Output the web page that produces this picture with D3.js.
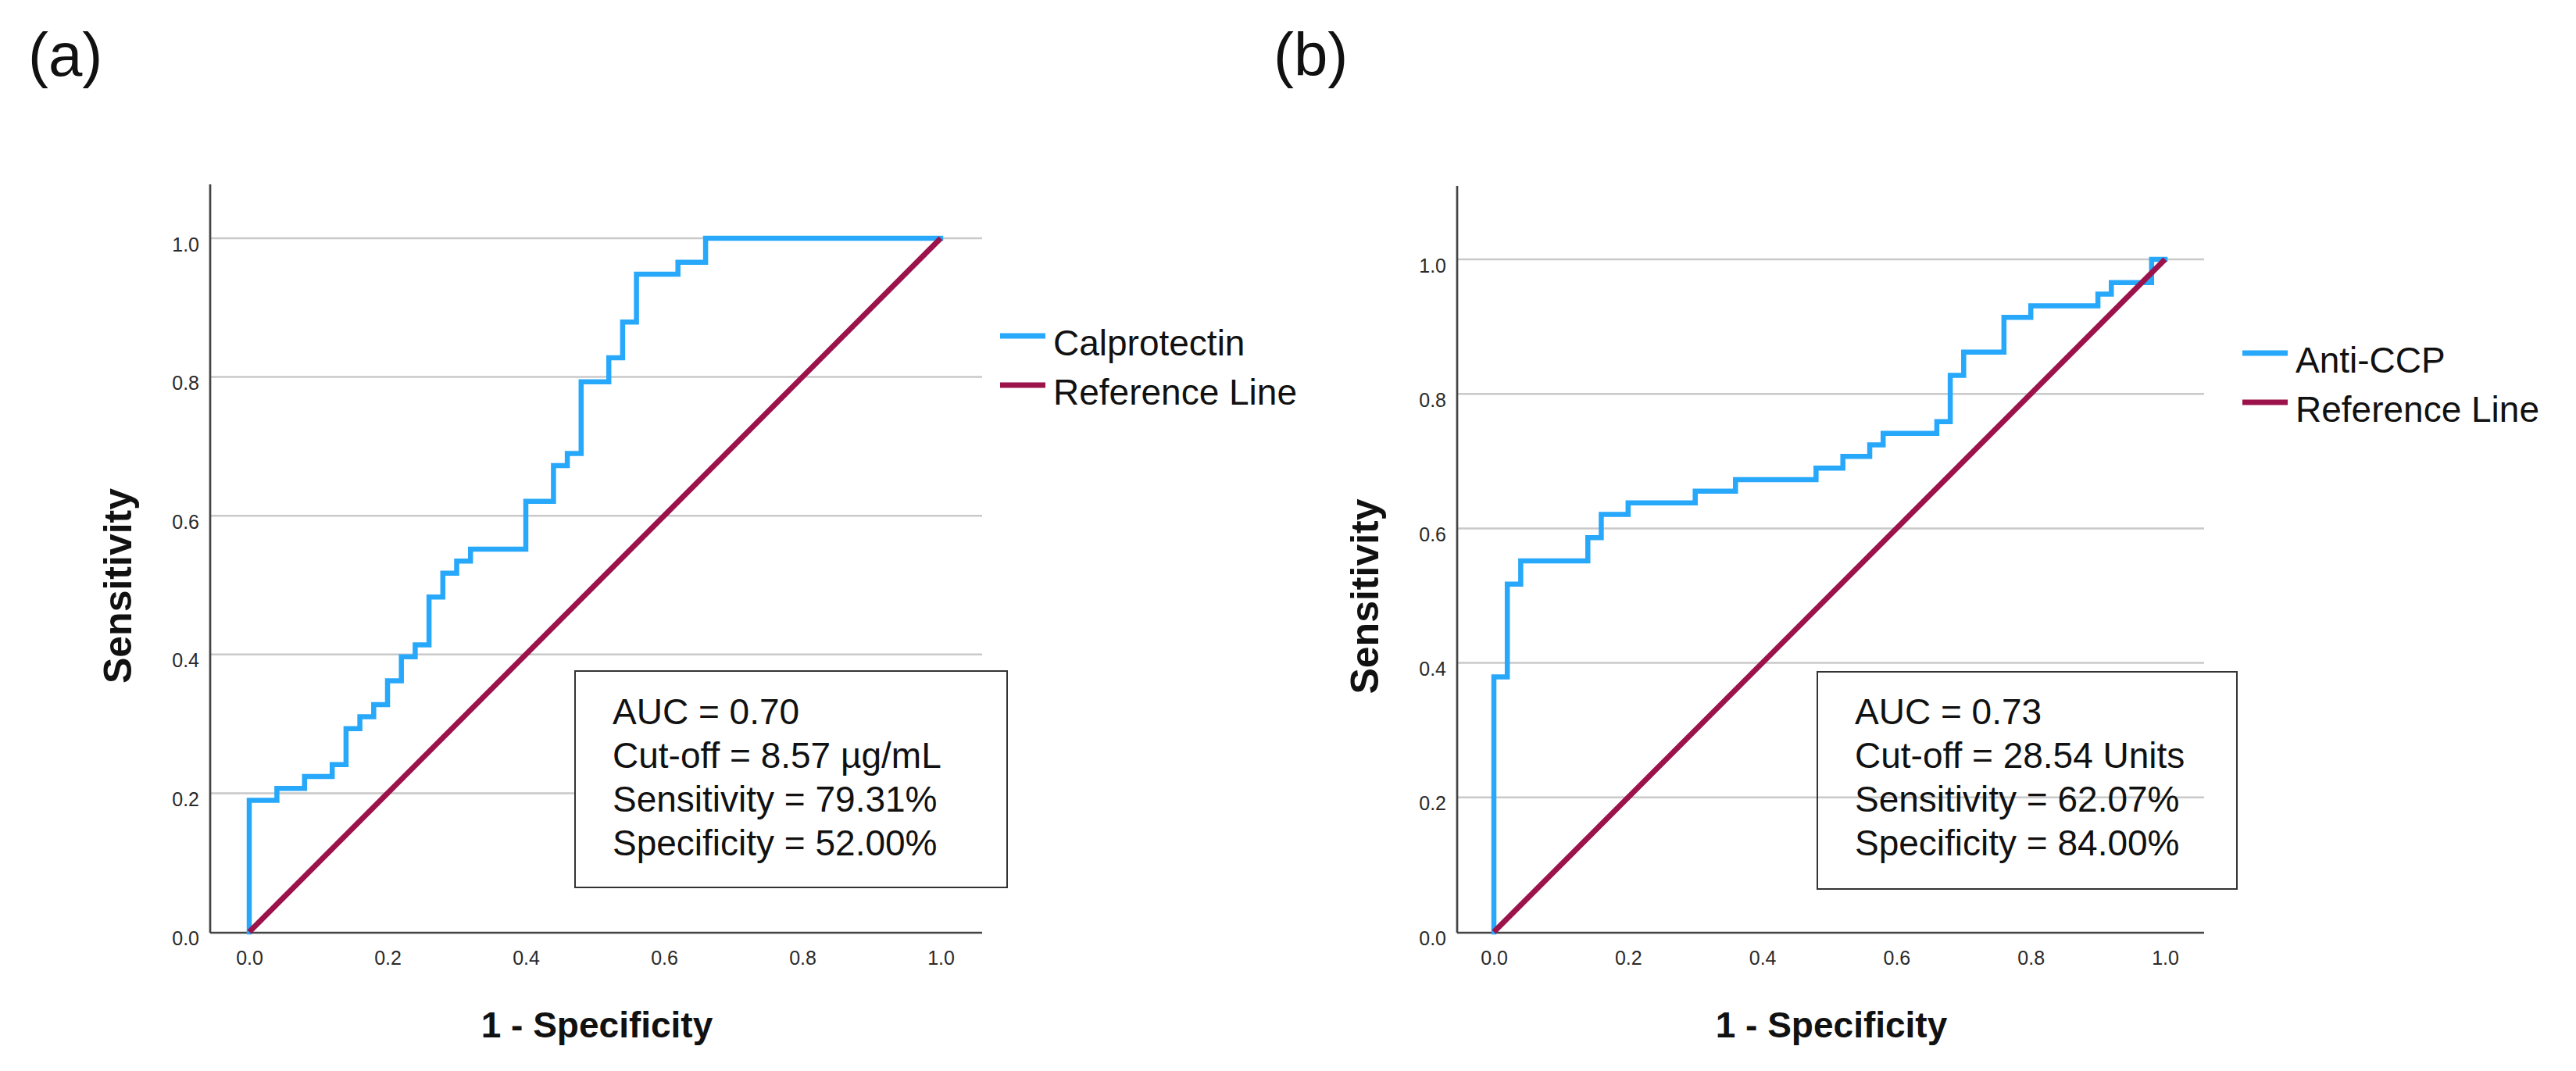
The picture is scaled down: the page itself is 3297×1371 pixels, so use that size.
<!DOCTYPE html>
<html>
<head>
<meta charset="utf-8">
<script src="https://cdn.jsdelivr.net/npm/d3@7"></script>
<style>
  body { margin: 0; background: #fff; }
  text { font-family: "Liberation Sans", Arial, sans-serif; }
</style>
</head>
<body>
<div class="main-container"></div>
<script>
// ROC coordinates (1 - specificity, sensitivity), drawn as step-after staircase
var calFpr = [0, 0, 0.04, 0.08, 0.12, 0.14, 0.16, 0.18, 0.20, 0.22, 0.24, 0.26, 0.28, 0.30, 0.32,
              0.40, 0.44, 0.46, 0.48, 0.52, 0.54, 0.56, 0.62, 0.66, 1.0];
var calTpr = [0, 0.1897, 0.2069, 0.2241, 0.2414, 0.2931, 0.3103, 0.3276, 0.3621, 0.3966, 0.4138,
              0.4828, 0.5172, 0.5345, 0.5517, 0.6207, 0.6724, 0.6897, 0.7931, 0.8276, 0.8793,
              0.9483, 0.9655, 1.0, 1.0];

var ccpFpr = [0, 0, 0.02, 0.04, 0.14, 0.16, 0.20, 0.30, 0.36, 0.48, 0.52, 0.56, 0.58, 0.66, 0.68,
              0.70, 0.76, 0.80, 0.90, 0.92, 0.98, 1.0];
var ccpTpr = [0, 0.3793, 0.5172, 0.5517, 0.5862, 0.6207, 0.6379, 0.6552, 0.6724, 0.6897, 0.7069,
              0.7241, 0.7414, 0.7586, 0.8276, 0.8621, 0.9138, 0.9310, 0.9483, 0.9655, 1.0, 1.0];

var refLine = [[0, 0], [1, 1]];
var tickValues = [0, 0.2, 0.4, 0.6, 0.8, 1.0];
var gridValues = [0.2, 0.4, 0.6, 0.8, 1.0];

var calStats = ["AUC = 0.70", "Cut-off = 8.57 \u00b5g/mL", "Sensitivity = 79.31%", "Specificity = 52.00%"];
var ccpStats = ["AUC = 0.73", "Cut-off = 28.54 Units", "Sensitivity = 62.07%", "Specificity = 84.00%"];

var blue = "#27a8fb", maroon = "#9c124a";

var panels = [
  { label: "(a)", labelX: 36, name: "Calprotectin", fpr: calFpr, tpr: calTpr, stats: calStats,
    x0: 319, x1: 1204, y0: 1193, y1: 305, left: 269, right: 1257, top: 236,
    box: [736, 859, 553, 277], boxFill: "#fff", legX: 1280, legY: 430, yTitleX: 168, xTitleX: 764 },
  { label: "(b)", labelX: 1630, name: "Anti-CCP", fpr: ccpFpr, tpr: ccpTpr, stats: ccpStats,
    x0: 1912, x1: 2771, y0: 1193, y1: 332, left: 1865, right: 2821, top: 238,
    box: [2326, 860, 537, 278], boxFill: "none", legX: 2870, legY: 452, yTitleX: 1764, xTitleX: 2344 }
];

var svg = d3.select(".main-container")
    .append("svg")
    .attr("width", 3297)
    .attr("height", 1371)
    .style("display", "block");

svg.append("rect").attr("width", 3297).attr("height", 1371).attr("fill", "#fff");

panels.forEach(function (p) {
    var x = d3.scaleLinear().domain([0, 1]).range([p.x0, p.x1]);
    var y = d3.scaleLinear().domain([0, 1]).range([p.y0, p.y1]);
    var g = svg.append("g");

    // panel label
    g.append("text").attr("x", p.labelX).attr("y", 97)
        .style("font-size", "78px").attr("fill", "#111").text(p.label);

    // grid lines
    g.selectAll("line.grid").data(gridValues).enter().append("line")
        .attr("class", "grid")
        .attr("x1", p.left).attr("x2", p.right)
        .attr("y1", function (d) { return y(d); }).attr("y2", function (d) { return y(d); })
        .attr("stroke", "#c9c9c9").attr("stroke-width", 2.5);

    // axes lines
    g.append("line").attr("x1", p.left).attr("x2", p.left).attr("y1", p.top).attr("y2", p.y0 + 1)
        .attr("stroke", "#444").attr("stroke-width", 2.7);
    g.append("line").attr("x1", p.left).attr("x2", p.right).attr("y1", p.y0 + 1).attr("y2", p.y0 + 1)
        .attr("stroke", "#444").attr("stroke-width", 2.7);

    // tick labels
    var yAxis = g.append("g").attr("transform", "translate(" + p.left + ",0)")
        .call(d3.axisLeft(y).tickValues(tickValues).tickSize(0).tickPadding(14).tickFormat(d3.format(".1f")));
    var xAxis = g.append("g").attr("transform", "translate(0," + (p.y0 + 1) + ")")
        .call(d3.axisBottom(x).tickValues(tickValues).tickSize(0).tickPadding(23).tickFormat(d3.format(".1f")));
    [yAxis, xAxis].forEach(function (a) {
        a.select(".domain").remove();
        a.selectAll("text").style("font-size", "25px").attr("fill", "#2a2a2a")
            .style("font-family", "'Liberation Sans', Arial, sans-serif");
    });
    yAxis.selectAll("text").attr("dy", "0.64em");

    // ROC curve
    var pts = p.fpr.map(function (d, i) { return [d, p.tpr[i]]; });
    g.append("path").datum(pts)
        .attr("d", d3.line().x(function (d) { return x(d[0]); }).y(function (d) { return y(d[1]); })
            .curve(d3.curveStepAfter))
        .attr("fill", "none").attr("stroke", blue).attr("stroke-width", 6.5)
        .attr("stroke-linejoin", "miter").attr("stroke-linecap", "square");

    // reference line
    g.append("path").datum(refLine)
        .attr("d", d3.line().x(function (d) { return x(d[0]); }).y(function (d) { return y(d[1]); }))
        .attr("fill", "none").attr("stroke", maroon).attr("stroke-width", 7);

    // stats box
    g.append("rect").attr("x", p.box[0]).attr("y", p.box[1]).attr("width", p.box[2]).attr("height", p.box[3])
        .attr("fill", p.boxFill).attr("stroke", "#333").attr("stroke-width", 2);
    g.selectAll("text.stat").data(p.stats).enter().append("text")
        .attr("class", "stat")
        .attr("x", p.box[0] + 48)
        .attr("y", function (d, i) { return 927 + i * 56; })
        .style("font-size", "46px").attr("fill", "#111")
        .text(function (d) { return d; });

    // legend
    var leg = [[p.name, blue], ["Reference Line", maroon]];
    leg.forEach(function (l, i) {
        var ly = p.legY + i * 63;
        g.append("line").attr("x1", p.legX).attr("x2", p.legX + 58).attr("y1", ly).attr("y2", ly)
            .attr("stroke", l[1]).attr("stroke-width", 7);
        g.append("text").attr("x", p.legX + 68).attr("y", ly + 25)
            .style("font-size", "46px").attr("fill", "#111").text(l[0]);
    });

    // axis titles
    g.append("text")
        .attr("transform", "translate(" + p.yTitleX + "," + ((p.y0 + p.y1) / 2 + 1) + ") rotate(-90)")
        .attr("text-anchor", "middle").style("font-size", "50px").style("font-weight", "bold")
        .attr("fill", "#111").text("Sensitivity");
    g.append("text").attr("x", p.xTitleX).attr("y", 1328)
        .attr("text-anchor", "middle").style("font-size", "46px").style("font-weight", "bold")
        .attr("fill", "#111").text("1 - Specificity");
});
</script>
</body>
</html>
